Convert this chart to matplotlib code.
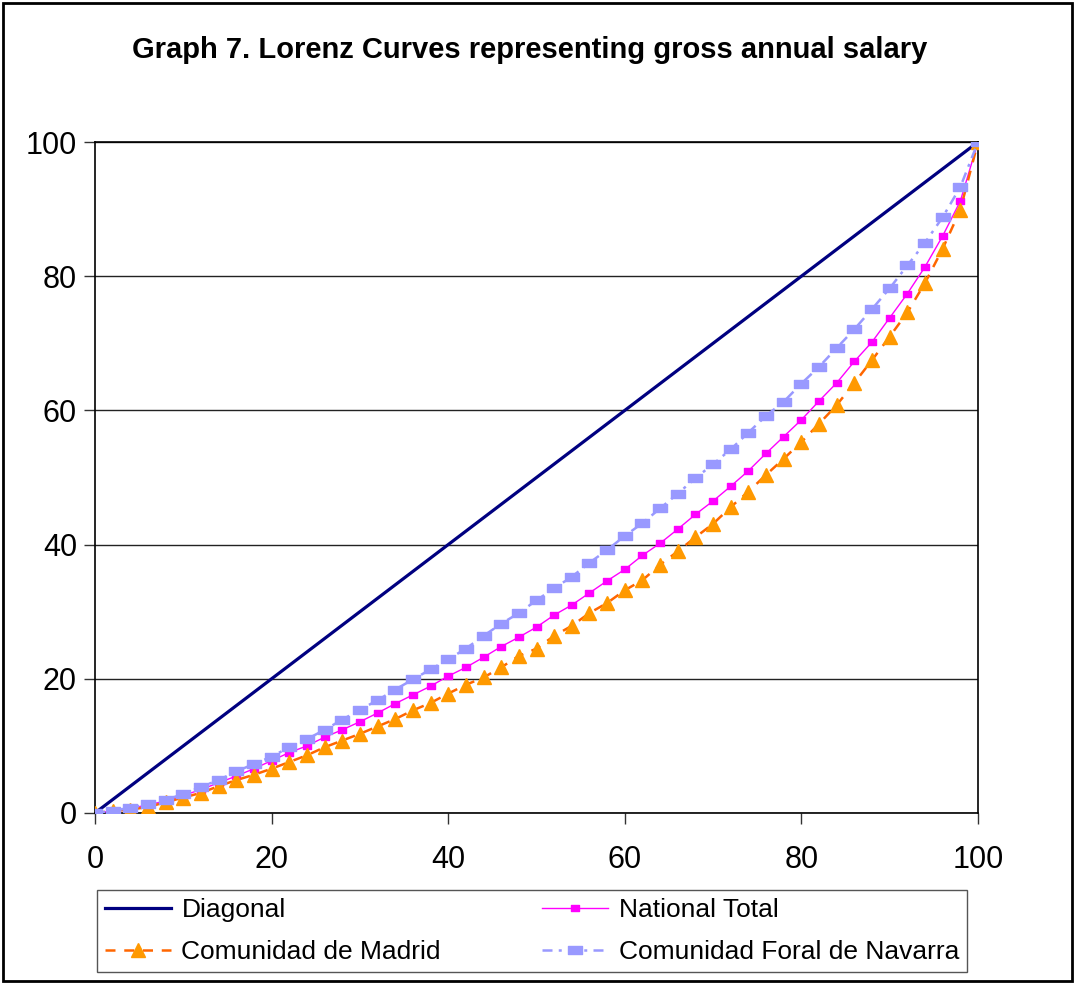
import numpy as np
import matplotlib
matplotlib.use("Agg")
import matplotlib.pyplot as plt
from matplotlib.path import Path as MPath
from matplotlib.patches import Rectangle

plt.rcParams['font.family'] = ['Liberation Sans', 'DejaVu Sans']

# percentil de la poblacion (eje x) y porcentaje acumulado del salario
pct = [0, 2, 4, 6, 8, 10, 12, 14, 16, 18, 20, 22, 24, 26, 28, 30, 32, 34, 36, 38,
       40, 42, 44, 46, 48, 50, 52, 54, 56, 58, 60, 62, 64, 66, 68, 70, 72, 74, 76, 78,
       80, 82, 84, 86, 88, 90, 92, 94, 96, 98, 100]

diagonal = [0, 2, 4, 6, 8, 10, 12, 14, 16, 18, 20, 22, 24, 26, 28, 30, 32, 34, 36, 38,
            40, 42, 44, 46, 48, 50, 52, 54, 56, 58, 60, 62, 64, 66, 68, 70, 72, 74, 76, 78,
            80, 82, 84, 86, 88, 90, 92, 94, 96, 98, 100]

national = [0, 0.3, 0.7, 1.2, 1.8, 2.6, 3.5, 4.5, 5.5, 6.6, 7.8, 9.0, 10.0, 11.3, 12.4,
            13.6, 14.9, 16.3, 17.6, 18.9, 20.4, 21.7, 23.2, 24.8, 26.2, 27.7, 29.5, 31.0,
            32.8, 34.6, 36.3, 38.4, 40.2, 42.3, 44.5, 46.5, 48.7, 51.0, 53.6, 56.1, 58.6,
            61.4, 64.1, 67.3, 70.2, 73.8, 77.4, 81.4, 86.0, 91.2, 100]

madrid = [0, 0.3, 0.5, 0.9, 1.6, 2.3, 3.0, 4.0, 4.9, 5.7, 6.6, 7.6, 8.6, 9.8, 10.8,
          11.8, 12.9, 14.0, 15.3, 16.4, 17.8, 19.1, 20.2, 21.7, 23.4, 24.5, 26.4, 27.9,
          29.8, 31.3, 33.2, 34.7, 37.0, 39.0, 41.1, 43.1, 45.6, 47.9, 50.4, 52.8, 55.3,
          58.0, 60.8, 64.1, 67.5, 71.0, 74.6, 79.0, 84.1, 89.9, 100]

navarra = [0, 0.3, 0.8, 1.3, 2.0, 2.8, 3.9, 4.9, 6.2, 7.3, 8.4, 9.8, 11.0, 12.4, 13.9,
           15.4, 16.8, 18.4, 19.9, 21.4, 22.9, 24.5, 26.4, 28.2, 29.8, 31.7, 33.5, 35.2,
           37.3, 39.2, 41.3, 43.2, 45.4, 47.6, 49.9, 52.0, 54.2, 56.7, 59.2, 61.3, 64.0,
           66.5, 69.3, 72.1, 75.1, 78.2, 81.6, 85.0, 88.8, 93.3, 100]

# marcadores rectangulares anchos (estilo Excel)
rect = MPath([(-1, -0.55), (1, -0.55), (1, 0.55), (-1, 0.55), (-1, -0.55)],
             [MPath.MOVETO, MPath.LINETO, MPath.LINETO, MPath.LINETO, MPath.CLOSEPOLY])
rect_small = MPath([(-1, -0.7), (1, -0.7), (1, 0.7), (-1, 0.7), (-1, -0.7)],
                   [MPath.MOVETO, MPath.LINETO, MPath.LINETO, MPath.LINETO, MPath.CLOSEPOLY])

fig = plt.figure(figsize=(10.76, 9.84), dpi=100)
ax = fig.add_axes([95/1076, 1 - 813/984, 883/1076, 671/984])

ax.plot(pct, diagonal, color="#000080", lw=2.3, label="Diagonal", zorder=3)
ax.plot(pct, national, color="#FF00FF", lw=1.0, marker=rect_small, ms=6,
        mfc="#FF00FF", mec="#FF00FF", label="National Total", zorder=4)
ax.plot(pct, madrid, color="#FF6600", lw=1.8, dashes=(4, 3.5), marker="^", ms=10,
        mfc="#FF9900", mec="#FF9900", label="Comunidad de Madrid", zorder=5)
ax.plot(pct, navarra, color="#9999FF", lw=1.8, dashes=(4, 2.5, 1.2, 2.5), marker=rect, ms=10,
        mfc="#9999FF", mec="#9999FF", label="Comunidad Foral de Navarra", zorder=6)

ax.set_xlim(0, 100)
ax.set_ylim(0, 100)
ax.set_xticks([0, 20, 40, 60, 80, 100])
ax.set_yticks([0, 20, 40, 60, 80, 100])
ax.tick_params(axis="both", direction="out", length=8, width=1, labelsize=22, color="#333333")
ax.tick_params(axis="x", pad=15)
ax.tick_params(axis="y", pad=5)
ax.yaxis.grid(True, color="#222222", lw=1.0)
ax.set_axisbelow(True)
for s in ax.spines.values():
    s.set_linewidth(1.2)
    s.set_color("black")

fig.text(530/1076, 1 - 50/984, "Graph 7. Lorenz Curves representing gross annual salary",
         ha="center", va="center", fontsize=21, fontweight="bold")

h, l = ax.get_legend_handles_labels()
order = [0, 2, 1, 3]
leg = fig.legend([h[i] for i in order], [l[i] for i in order], ncol=2,
                 loc="lower left", mode="expand",
                 bbox_to_anchor=(97/1076, 1 - 972/984, 870/1076, 84/984),
                 fontsize=19, frameon=True, fancybox=False, framealpha=1,
                 edgecolor="#555555", handlelength=2.5, handletextpad=0.4,
                 labelspacing=0.68, borderaxespad=0, borderpad=0.3)
leg.get_frame().set_linewidth(1.0)

fig.patches.append(Rectangle((3/1076, 3/984), 1069/1076, 978/984, transform=fig.transFigure,
                             fill=False, edgecolor="black", lw=2))

plt.savefig("out.png", dpi=100)
